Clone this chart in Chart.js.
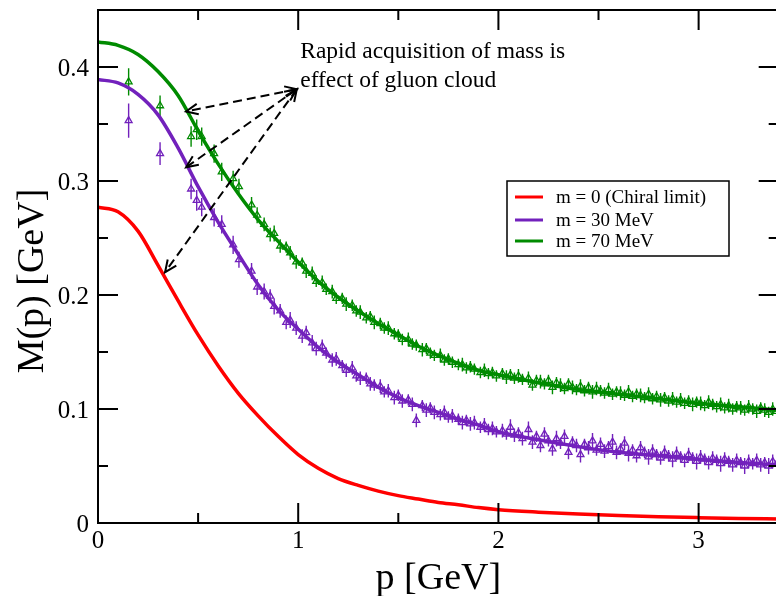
<!DOCTYPE html>
<html>
<head>
<meta charset="utf-8">
<title>M(p) [GeV]</title>
<script src="https://cdn.jsdelivr.net/npm/chart.js@4.4.0/dist/chart.umd.min.js"></script>
<style>
  html, body { margin: 0; padding: 0; background: #fff; overflow: hidden; }
  #wrap { position: relative; width: 784px; height: 596px; }
</style>
</head>
<body>
<div id="wrap"><canvas id="massChart"></canvas></div>
<script>
// fit curves
const curveP = [0, 0.1, 0.2, 0.3, 0.4, 0.5, 0.6, 0.7, 0.8, 0.9, 1.0, 1.1, 1.2, 1.3, 1.4, 1.5, 1.6, 1.7, 1.8, 1.9, 2.0,
                2.2, 2.4, 2.6, 2.8, 3.0, 3.2, 3.4];
const curveChiral = [0.277, 0.273, 0.256, 0.226, 0.195, 0.165, 0.138, 0.114, 0.094, 0.076, 0.060, 0.048, 0.039, 0.033,
                     0.028, 0.024, 0.021, 0.018, 0.016, 0.0135, 0.0117, 0.0095, 0.0078, 0.0065, 0.0055, 0.0047, 0.004, 0.0035];
const curve30 = [0.389, 0.386, 0.376, 0.358, 0.329, 0.295, 0.264, 0.236, 0.209, 0.187, 0.170, 0.154, 0.141, 0.130,
                 0.119, 0.110, 0.103, 0.097, 0.091, 0.086, 0.080, 0.073, 0.067, 0.062, 0.059, 0.056, 0.053, 0.051];
const curve70 = [0.422, 0.419, 0.411, 0.396, 0.375, 0.344, 0.315, 0.289, 0.266, 0.247, 0.229, 0.212, 0.198, 0.186,
                 0.175, 0.165, 0.155, 0.147, 0.140, 0.134, 0.130, 0.123, 0.117, 0.113, 0.109, 0.105, 0.102, 0.099];

// lattice points (same momenta for both masses)
const latticeP = [0.153, 0.310, 0.465, 0.493, 0.518, 0.580, 0.618, 0.675, 0.704, 0.767, 0.795,
  0.83, 0.86, 0.88, 0.91, 0.94, 0.96, 0.99, 1.02, 1.04, 1.07,
  1.09, 1.12, 1.14, 1.17, 1.19, 1.22, 1.24, 1.27, 1.29, 1.31,
  1.34, 1.36, 1.38, 1.41, 1.43, 1.45, 1.48, 1.50, 1.52, 1.55,
  1.57, 1.59, 1.62, 1.64, 1.66, 1.68, 1.71, 1.73, 1.75, 1.77,
  1.80, 1.82, 1.84, 1.86, 1.88, 1.91, 1.93, 1.95, 1.97, 1.99,
  2.02, 2.04, 2.06, 2.08, 2.10, 2.12, 2.15, 2.17, 2.19, 2.21,
  2.23, 2.25, 2.27, 2.29, 2.31, 2.33, 2.35, 2.37, 2.39, 2.41,
  2.43, 2.45, 2.47, 2.49, 2.51, 2.53, 2.55, 2.57, 2.59, 2.61,
  2.63, 2.65, 2.67, 2.69, 2.71, 2.73, 2.75, 2.77, 2.79, 2.81,
  2.83, 2.85, 2.87, 2.89, 2.91, 2.93, 2.95, 2.97, 2.99, 3.01,
  3.03, 3.05, 3.07, 3.09, 3.11, 3.13, 3.15, 3.17, 3.19, 3.21,
  3.23, 3.25, 3.27, 3.29, 3.31, 3.33, 3.35, 3.37, 3.39];

const lattice30 = [0.353, 0.324, 0.293, 0.283, 0.277, 0.268, 0.262, 0.244, 0.231, 0.221, 0.207,
  0.203, 0.199, 0.190, 0.186, 0.176, 0.178, 0.171, 0.164, 0.167, 0.158,
  0.153, 0.155, 0.149, 0.143, 0.144, 0.138, 0.134, 0.136, 0.129, 0.127,
  0.127, 0.122, 0.121, 0.120, 0.115, 0.116, 0.110, 0.112, 0.107, 0.108,
  0.104, 0.090, 0.103, 0.099, 0.101, 0.097, 0.095, 0.097, 0.093, 0.094,
  0.091, 0.088, 0.090, 0.087, 0.088, 0.084, 0.086, 0.082, 0.083, 0.080,
  0.081, 0.078, 0.084, 0.077, 0.079, 0.074, 0.082, 0.071, 0.076, 0.068,
  0.078, 0.072, 0.065, 0.074, 0.070, 0.076, 0.062, 0.071, 0.068, 0.060,
  0.069, 0.066, 0.072, 0.064, 0.069, 0.063, 0.067, 0.071, 0.062, 0.065,
  0.070, 0.061, 0.064, 0.059, 0.066, 0.062, 0.058, 0.063, 0.060, 0.057,
  0.062, 0.059, 0.056, 0.061, 0.058, 0.055, 0.060, 0.057, 0.054, 0.058,
  0.056, 0.053, 0.057, 0.055, 0.052, 0.056, 0.054, 0.051, 0.055, 0.053,
  0.050, 0.054, 0.052, 0.055, 0.051, 0.053, 0.050, 0.054, 0.052];
const err30 = [0.015, 0.010, 0.009, 0.009, 0.008, 0.008, 0.008, 0.008, 0.007, 0.007, 0.007,
  0.007, 0.006, 0.007, 0.006, 0.006, 0.007, 0.006, 0.006, 0.006, 0.007,
  0.006, 0.006, 0.005, 0.006, 0.006, 0.005, 0.006, 0.006, 0.005, 0.006,
  0.005, 0.006, 0.005, 0.006, 0.005, 0.006, 0.006, 0.005, 0.006, 0.005,
  0.006, 0.006, 0.005, 0.006, 0.005, 0.006, 0.005, 0.006, 0.005, 0.006,
  0.005, 0.006, 0.005, 0.006, 0.006, 0.005, 0.006, 0.005, 0.006, 0.005,
  0.006, 0.005, 0.007, 0.006, 0.005, 0.006, 0.007, 0.006, 0.005, 0.006,
  0.006, 0.005, 0.006, 0.007, 0.005, 0.006, 0.006, 0.005, 0.006, 0.007,
  0.005, 0.006, 0.007, 0.005, 0.006, 0.006, 0.005, 0.007, 0.006, 0.005,
  0.006, 0.007, 0.005, 0.006, 0.006, 0.005, 0.007, 0.006, 0.005, 0.006,
  0.006, 0.005, 0.007, 0.006, 0.005, 0.006, 0.006, 0.005, 0.007, 0.006,
  0.005, 0.006, 0.006, 0.005, 0.007, 0.006, 0.005, 0.006, 0.006, 0.005,
  0.007, 0.006, 0.005, 0.006, 0.006, 0.005, 0.007, 0.006, 0.005];

const lattice70 = [0.387, 0.366, 0.339, 0.345, 0.339, 0.324, 0.308, 0.302, 0.295, 0.279, 0.270,
  0.262, 0.253, 0.254, 0.243, 0.242, 0.237, 0.229, 0.228, 0.221, 0.219,
  0.212, 0.211, 0.205, 0.203, 0.197, 0.197, 0.192, 0.191, 0.186, 0.185,
  0.180, 0.181, 0.176, 0.175, 0.171, 0.171, 0.166, 0.165, 0.161, 0.161,
  0.157, 0.156, 0.152, 0.153, 0.149, 0.147, 0.147, 0.143, 0.144, 0.141,
  0.139, 0.139, 0.136, 0.137, 0.135, 0.132, 0.134, 0.131, 0.132, 0.129,
  0.131, 0.128, 0.130, 0.127, 0.129, 0.126, 0.127, 0.121, 0.125, 0.124,
  0.122, 0.125, 0.119, 0.123, 0.121, 0.118, 0.122, 0.119, 0.117, 0.120,
  0.116, 0.119, 0.115, 0.118, 0.116, 0.114, 0.117, 0.113, 0.115, 0.114,
  0.112, 0.115, 0.111, 0.113, 0.112, 0.110, 0.113, 0.109, 0.111, 0.108,
  0.110, 0.107, 0.109, 0.106, 0.108, 0.105, 0.107, 0.104, 0.106, 0.105,
  0.103, 0.106, 0.104, 0.102, 0.104, 0.101, 0.103, 0.100, 0.102, 0.101,
  0.099, 0.102, 0.100, 0.098, 0.101, 0.099, 0.097, 0.100, 0.098];
const err70 = [0.012, 0.009, 0.009, 0.009, 0.008, 0.008, 0.008, 0.007, 0.007, 0.007, 0.007,
  0.006, 0.006, 0.007, 0.006, 0.005, 0.006, 0.006, 0.005, 0.006, 0.006,
  0.005, 0.006, 0.005, 0.006, 0.005, 0.005, 0.006, 0.005, 0.005, 0.006,
  0.005, 0.005, 0.006, 0.005, 0.005, 0.006, 0.005, 0.005, 0.005, 0.006,
  0.005, 0.005, 0.006, 0.005, 0.005, 0.005, 0.006, 0.005, 0.005, 0.005,
  0.005, 0.006, 0.005, 0.005, 0.005, 0.005, 0.006, 0.005, 0.005, 0.005,
  0.005, 0.006, 0.005, 0.005, 0.006, 0.005, 0.006, 0.005, 0.005, 0.006,
  0.005, 0.005, 0.006, 0.005, 0.006, 0.005, 0.005, 0.006, 0.005, 0.006,
  0.005, 0.005, 0.006, 0.006, 0.005, 0.005, 0.006, 0.005, 0.005, 0.006,
  0.005, 0.006, 0.005, 0.005, 0.006, 0.005, 0.006, 0.005, 0.005, 0.006,
  0.005, 0.005, 0.006, 0.005, 0.006, 0.005, 0.005, 0.006, 0.005, 0.006,
  0.005, 0.006, 0.005, 0.005, 0.006, 0.005, 0.006, 0.005, 0.005, 0.006,
  0.005, 0.006, 0.005, 0.006, 0.005, 0.006, 0.005, 0.006, 0.005];

const xTicks = [0, 1, 2, 3];
const xTickLabels = ["0", "1", "2", "3"];
const xMinorTicks = [0.5, 1.5, 2.5];
const yTicks = [0, 0.1, 0.2, 0.3, 0.4];
const yTickLabels = ["0", "0.1", "0.2", "0.3", "0.4"];
const yMinorTicks = [0.05, 0.15, 0.25, 0.35];

const seriesLabels = ["m = 0 (Chiral limit)", "m = 30 MeV", "m = 70 MeV"];
const seriesColors = ["#ff0000", "rgb(114,33,188)", "rgb(0,139,0)"];

const noteLines = ["Rapid acquisition of mass is", "effect of gluon cloud"];
const noteAnchor = { x: 1.01, y: 0.4076 };
const arrowStart = { x: 0.993, y: 0.3805 };
const arrowEnds = [{ x: 0.44, y: 0.361 }, { x: 0.44, y: 0.312 }, { x: 0.335, y: 0.220 }];

const SERIF = '"Liberation Serif", "Times New Roman", serif';

function toXY(xs, ys) {
    return xs.map((x, i) => ({ x: x, y: ys[i] }));
}

function arrowHead(ctx, x0, y0, x1, y1) {
    const ang = Math.atan2(y1 - y0, x1 - x0);
    const len = 13, spread = 0.42;
    ctx.beginPath();
    ctx.moveTo(x1 - len * Math.cos(ang - spread), y1 - len * Math.sin(ang - spread));
    ctx.lineTo(x1, y1);
    ctx.lineTo(x1 - len * Math.cos(ang + spread), y1 - len * Math.sin(ang + spread));
    ctx.stroke();
}

const gracePlugin = {
    id: 'graceFrame',
    beforeDatasetsDraw(chart) {
        const ctx = chart.ctx;
        const xs = chart.scales.x, ys = chart.scales.y;
        const area = chart.chartArea;
        ctx.save();
        ctx.beginPath();
        ctx.rect(area.left, area.top, area.right - area.left, area.bottom - area.top);
        ctx.clip();
        chart.data.datasets.forEach(ds => {
            if (!ds.errors) return;
            ctx.strokeStyle = ds.borderColor;
            ctx.lineWidth = 1.4;
            ds.data.forEach((pt, i) => {
                const px = xs.getPixelForValue(pt.x);
                ctx.beginPath();
                ctx.moveTo(px, ys.getPixelForValue(pt.y - ds.errors[i]));
                ctx.lineTo(px, ys.getPixelForValue(pt.y + ds.errors[i]));
                ctx.stroke();
            });
        });
        ctx.restore();
    },
    afterDraw(chart) {
        const ctx = chart.ctx;
        const xs = chart.scales.x, ys = chart.scales.y;
        const a = chart.chartArea;
        ctx.save();

        // frame
        ctx.strokeStyle = "#000";
        ctx.lineWidth = 2;
        ctx.strokeRect(a.left, a.top, a.right - a.left, a.bottom - a.top);

        // inward ticks on all four sides
        ctx.beginPath();
        const tickX = (v, len) => {
            const px = xs.getPixelForValue(v);
            ctx.moveTo(px, a.bottom); ctx.lineTo(px, a.bottom - len);
            ctx.moveTo(px, a.top); ctx.lineTo(px, a.top + len);
        };
        const tickY = (v, len) => {
            const py = ys.getPixelForValue(v);
            ctx.moveTo(a.left, py); ctx.lineTo(a.left + len, py);
            ctx.moveTo(a.right, py); ctx.lineTo(a.right - len, py);
        };
        xTicks.forEach(v => tickX(v, 20));
        xMinorTicks.forEach(v => tickX(v, 10));
        yTicks.forEach(v => tickY(v, 20));
        yMinorTicks.forEach(v => tickY(v, 10));
        ctx.stroke();

        // tick labels
        ctx.fillStyle = "#000";
        ctx.font = "25px " + SERIF;
        ctx.textBaseline = "alphabetic";
        ctx.textAlign = "right";
        yTicks.forEach((v, i) => ctx.fillText(yTickLabels[i], a.left - 9, ys.getPixelForValue(v) + 9));
        ctx.textAlign = "center";
        xTicks.forEach((v, i) => ctx.fillText(xTickLabels[i], xs.getPixelForValue(v), a.bottom + 25));

        // axis titles
        ctx.font = "38px " + SERIF;
        ctx.fillText("p [GeV]", (a.left + a.right) / 2, 589);
        ctx.save();
        ctx.translate(33, 281);
        ctx.rotate(-Math.PI / 2);
        ctx.textBaseline = "middle";
        ctx.fillText("M(p) [GeV]", 0, 0);
        ctx.restore();

        // legend box
        ctx.lineWidth = 1.5;
        ctx.strokeRect(507, 181, 222, 75);
        ctx.font = "19px " + SERIF;
        ctx.textAlign = "left";
        ctx.textBaseline = "middle";
        [197, 220, 241].forEach((ly, i) => {
            ctx.strokeStyle = seriesColors[i];
            ctx.lineWidth = 3;
            ctx.beginPath();
            ctx.moveTo(515, ly); ctx.lineTo(543, ly);
            ctx.stroke();
            ctx.fillText(seriesLabels[i], 556, ly + 1);
        });

        // annotation
        ctx.font = "23.5px " + SERIF;
        ctx.textBaseline = "alphabetic";
        const nx = xs.getPixelForValue(noteAnchor.x), ny = ys.getPixelForValue(noteAnchor.y);
        noteLines.forEach((t, i) => ctx.fillText(t, nx, ny + i * 29));

        ctx.strokeStyle = "#000";
        ctx.lineWidth = 2;
        const sx = xs.getPixelForValue(arrowStart.x), sy = ys.getPixelForValue(arrowStart.y);
        arrowEnds.forEach(e => {
            const ex = xs.getPixelForValue(e.x), ey = ys.getPixelForValue(e.y);
            ctx.setLineDash([9, 5]);
            ctx.beginPath();
            ctx.moveTo(sx, sy); ctx.lineTo(ex, ey);
            ctx.stroke();
            ctx.setLineDash([]);
            arrowHead(ctx, sx, sy, ex, ey);
            arrowHead(ctx, ex, ey, sx, sy);
        });
        ctx.restore();
    }
};

const curveStyle = (i) => ({
    label: seriesLabels[i],
    borderColor: seriesColors[i],
    backgroundColor: seriesColors[i],
    borderWidth: 3.5,
    pointRadius: 0,
    cubicInterpolationMode: 'monotone',
    fill: false
});

const pointStyle = (i) => ({
    showLine: false,
    pointStyle: 'triangle',
    pointRadius: 4,
    borderWidth: 1.3,
    borderColor: seriesColors[i],
    backgroundColor: 'rgba(0,0,0,0)'
});

new Chart(document.getElementById('massChart'), {
    type: 'line',
    data: {
        datasets: [
            Object.assign(curveStyle(0), { data: toXY(curveP, curveChiral) }),
            Object.assign(curveStyle(1), { data: toXY(curveP, curve30) }),
            Object.assign(curveStyle(2), { data: toXY(curveP, curve70) }),
            Object.assign(pointStyle(1), { label: 'lattice m = 30 MeV', data: toXY(latticeP, lattice30), errors: err30 }),
            Object.assign(pointStyle(2), { label: 'lattice m = 70 MeV', data: toXY(latticeP, lattice70), errors: err70 })
        ]
    },
    options: {
        responsive: true,
        maintainAspectRatio: false,
        animation: false,
        layout: { padding: { left: 98, top: 10, right: 4, bottom: 73 } },
        scales: {
            x: { type: 'linear', min: 0, max: 3.4, display: false },
            y: { type: 'linear', min: 0, max: 0.45, display: false }
        },
        plugins: {
            legend: { display: false },
            tooltip: { enabled: false }
        }
    },
    plugins: [gracePlugin]
});
</script>
</body>
</html>
